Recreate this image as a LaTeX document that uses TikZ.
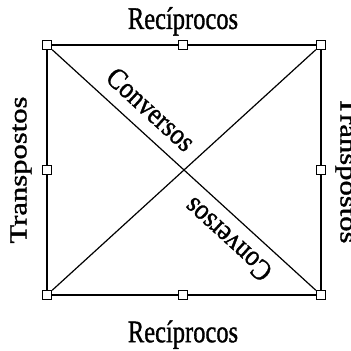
\documentclass[tikz,border=0pt]{standalone}
\usepackage{fontspec}
\setmainfont[FakeBold=1.2]{Liberation Serif}
\usetikzlibrary{positioning}

\begin{document}
\begin{tikzpicture}[x=1pt,y=1pt,
  handle/.style={draw,fill=white,line width=0.9pt,minimum size=9.5pt,inner sep=0pt},
  side/.style={line width=1.2pt},
  lbl/.style={font=\fontsize{24.5}{28}\selectfont,inner sep=0pt}]
  \useasboundingbox (0,0) rectangle (351,351);
  % handles on the corners and on the middle of the sides
  \node[handle] (tl) at (47,306) {};
  \node[handle] (tm) at (183,306) {};
  \node[handle] (tr) at (321,306) {};
  \node[handle] (ml) at (47,181) {};
  \node[handle] (mr) at (321,181) {};
  \node[handle] (bl) at (47,56) {};
  \node[handle] (bm) at (183,56) {};
  \node[handle] (br) at (321,56) {};
  % sides
  \draw[side] (tl) -- (tm);
  \draw[side] (tm) -- (tr);
  \draw[side] (tr) -- (mr);
  \draw[side] (mr) -- (br);
  \draw[side] (br) -- (bm);
  \draw[side] (bm) -- (bl);
  \draw[side] (bl) -- (ml);
  \draw[side] (ml) -- (tl);
  % diagonals
  \draw[side] (tl) -- node[lbl,pos=0.317,sloped,above=12pt] (conv1) {\scalebox{1.05}[1.2]{Conversos}} (br);
  \draw[side] (tr) -- (bl);
  \path (br) -- node[lbl,pos=0.278,sloped,allow upside down,above=12pt] (conv2) {\scalebox{1.05}[1.2]{Conversos}} (tl);
  % labels on the sides
  \node[lbl,above=4pt of tm] (recT) {\scalebox{1}[1.28]{Recíprocos}};
  \node[lbl,below=20pt of bm] (recB) {\scalebox{1}[1.28]{Recíprocos}};
  \node[lbl,left=10pt of ml,anchor=south,rotate=90] (traL) {\scalebox{1.25}[1]{Transpostos}};
  \node[lbl,right=9pt of mr,anchor=south,rotate=-90] (traR) {\scalebox{1.25}[1]{Transpostos}};
\end{tikzpicture}
\end{document}
